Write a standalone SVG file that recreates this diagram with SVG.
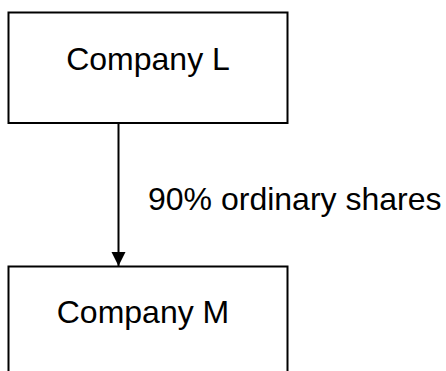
<svg xmlns="http://www.w3.org/2000/svg" width="446" height="371" viewBox="0 0 446 371">
  <style>
    .box { fill: #ffffff; stroke: #000000; stroke-width: 2; }
    .label { font-family: "Liberation Sans", Arial, sans-serif; font-size: 32px; fill: #000000; }
    .edge { stroke: #000000; stroke-width: 2; fill: none; }
  </style>
  <defs>
    <marker id="arrow" markerUnits="userSpaceOnUse" markerWidth="14" markerHeight="16" refX="14" refY="7" orient="auto">
      <path d="M0,0 L14,7 L0,14 Z" fill="#000000"/>
    </marker>
  </defs>
  <rect width="446" height="371" fill="#ffffff"/>

  <g id="company-l">
    <rect class="box" x="8.5" y="12.5" width="279" height="110.5"/>
    <text class="label" x="148" y="70" text-anchor="middle">Company L</text>
  </g>

  <g id="company-m">
    <rect class="box" x="8.5" y="266.5" width="279" height="120"/>
    <text class="label" x="143" y="323" text-anchor="middle">Company M</text>
  </g>

  <g id="connectors">
    <line class="edge" x1="118.5" y1="123" x2="118.5" y2="266" marker-end="url(#arrow)"/>
    <text class="label" x="148" y="210">90% ordinary shares</text>
  </g>
</svg>
